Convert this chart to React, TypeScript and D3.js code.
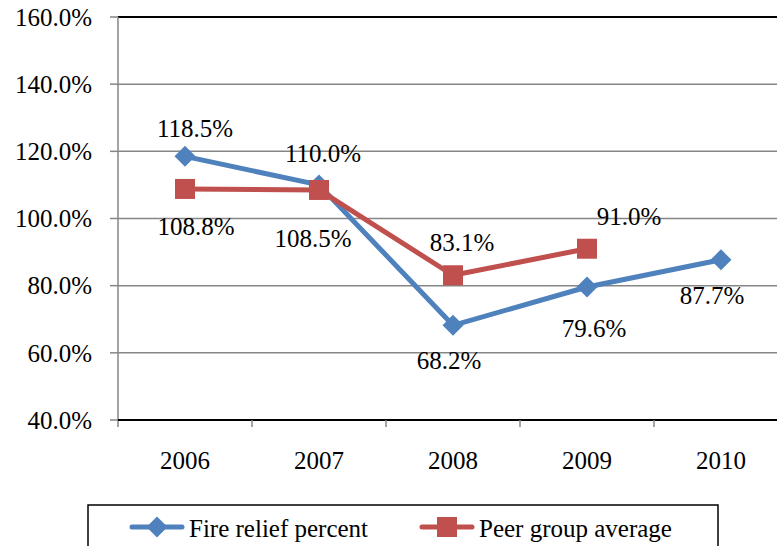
import React, { useEffect, useRef } from "react";
import * as d3 from "d3";

const years = ["2006", "2007", "2008", "2009", "2010"];
const fireRelief = [118.5, 110.0, 68.2, 79.6, 87.7];
const peerAvg: (number | null)[] = [108.8, 108.5, 83.1, 91.0, null];
const yTicks = [40, 60, 80, 100, 120, 140, 160];

// label placement offsets (dx, dy) relative to the point
const fireLabelOffsets = [[10, -28], [4, -32], [-4, 35], [7, 41], [-9, 35]];
const peerLabelOffsets = [[11, 37], [-6, 48], [9, -33], [42, -32]];

const W = 777;
const H = 546;
const left = 118;
const right = 788;
const top = 17;
const bottom = 420;
const BLUE = "#4F81BD";
const RED = "#C0504D";
const GRID = "#868686";
const FAMILY = "Liberation Serif";
const FS = 25;

export default function App() {
  const ref = useRef<SVGSVGElement | null>(null);

  useEffect(() => {
    const svg = d3.select(ref.current as SVGSVGElement);
    svg.selectAll("*").remove();

    const x = d3.scaleBand<string>().domain(years).range([left, right]);
    const y = d3.scaleLinear().domain([40, 160]).range([bottom, top]);
    const cx = (yr: string) => (x(yr) as number) + x.bandwidth() / 2;
    const fmt = (v: number) => v.toFixed(1) + "%";
    const diamond = (px: number, py: number, r: number) =>
      `M${px},${py - r}L${px + r},${py}L${px},${py + r}L${px - r},${py}Z`;

    const txt = (sx: number, sy: number, s: string, anchor: string, dy = "0.35em") =>
      svg
        .append("text")
        .attr("x", sx)
        .attr("y", sy)
        .attr("dy", dy)
        .attr("text-anchor", anchor)
        .attr("font-family", FAMILY)
        .attr("font-size", FS)
        .attr("fill", "#000")
        .text(s);

    svg.append("rect").attr("width", W).attr("height", H).attr("fill", "#fff");

    yTicks.forEach((t) => {
      svg.append("line").attr("x1", left).attr("x2", right).attr("y1", y(t)).attr("y2", y(t)).attr("stroke", GRID).attr("stroke-width", 1.5);
      svg.append("line").attr("x1", left - 8).attr("x2", left).attr("y1", y(t)).attr("y2", y(t)).attr("stroke", GRID).attr("stroke-width", 1.5);
      txt(92, y(t), t.toFixed(1) + "%", "end");
    });
    svg.append("line").attr("x1", left).attr("x2", right).attr("y1", y(160)).attr("y2", y(160)).attr("stroke", "#000").attr("stroke-width", 2);
    svg.append("line").attr("x1", left).attr("x2", left).attr("y1", top).attr("y2", bottom + 7).attr("stroke", GRID).attr("stroke-width", 1.5);
    svg.append("line").attr("x1", left).attr("x2", right).attr("y1", bottom).attr("y2", bottom).attr("stroke", "#000").attr("stroke-width", 2);
    years.forEach((yr) => {
      const bx = (x(yr) as number) + x.bandwidth();
      svg.append("line").attr("x1", bx).attr("x2", bx).attr("y1", bottom).attr("y2", bottom + 7).attr("stroke", GRID).attr("stroke-width", 1.5);
      txt(cx(yr), 460, yr, "middle");
    });

    const line = d3
      .line<number | null>()
      .defined((d) => d !== null)
      .x((_, i) => cx(years[i]))
      .y((d) => y(d as number));

    svg.append("path").attr("d", line(fireRelief) || "").attr("fill", "none").attr("stroke", BLUE).attr("stroke-width", 5).attr("stroke-linejoin", "round");
    svg.append("path").attr("d", line(peerAvg) || "").attr("fill", "none").attr("stroke", RED).attr("stroke-width", 5).attr("stroke-linejoin", "round");

    fireRelief.forEach((v, i) => {
      svg.append("path").attr("d", diamond(cx(years[i]), y(v), 10.5)).attr("fill", BLUE);
    });
    peerAvg.forEach((v, i) => {
      if (v === null) return;
      svg.append("rect").attr("x", cx(years[i]) - 10).attr("y", y(v) - 10).attr("width", 20).attr("height", 20).attr("fill", RED);
    });
    fireRelief.forEach((v, i) => {
      txt(cx(years[i]) + fireLabelOffsets[i][0], y(v) + fireLabelOffsets[i][1], fmt(v), "middle");
    });
    peerAvg.forEach((v, i) => {
      if (v === null) return;
      txt(cx(years[i]) + peerLabelOffsets[i][0], y(v) + peerLabelOffsets[i][1], fmt(v), "middle");
    });

    // legend
    svg.append("rect").attr("x", 88).attr("y", 505).attr("width", 630).attr("height", 60).attr("fill", "#fff").attr("stroke", "#000").attr("stroke-width", 1.5);
    svg.append("line").attr("x1", 132).attr("x2", 182).attr("y1", 527).attr("y2", 527).attr("stroke", BLUE).attr("stroke-width", 5).attr("stroke-linecap", "round");
    svg.append("path").attr("d", diamond(157, 527, 10.5)).attr("fill", BLUE);
    txt(189, 537, "Fire relief percent", "start", "0");
    svg.append("line").attr("x1", 422).attr("x2", 472).attr("y1", 527).attr("y2", 527).attr("stroke", RED).attr("stroke-width", 5).attr("stroke-linecap", "round");
    svg.append("rect").attr("x", 437).attr("y", 517).attr("width", 20).attr("height", 20).attr("fill", RED);
    txt(479, 537, "Peer group average", "start", "0");
  }, []);

  return (
    <svg
      ref={ref}
      width={W}
      height={H}
      style={{ position: "absolute", left: 0, top: 0, display: "block" }}
    />
  );
}
